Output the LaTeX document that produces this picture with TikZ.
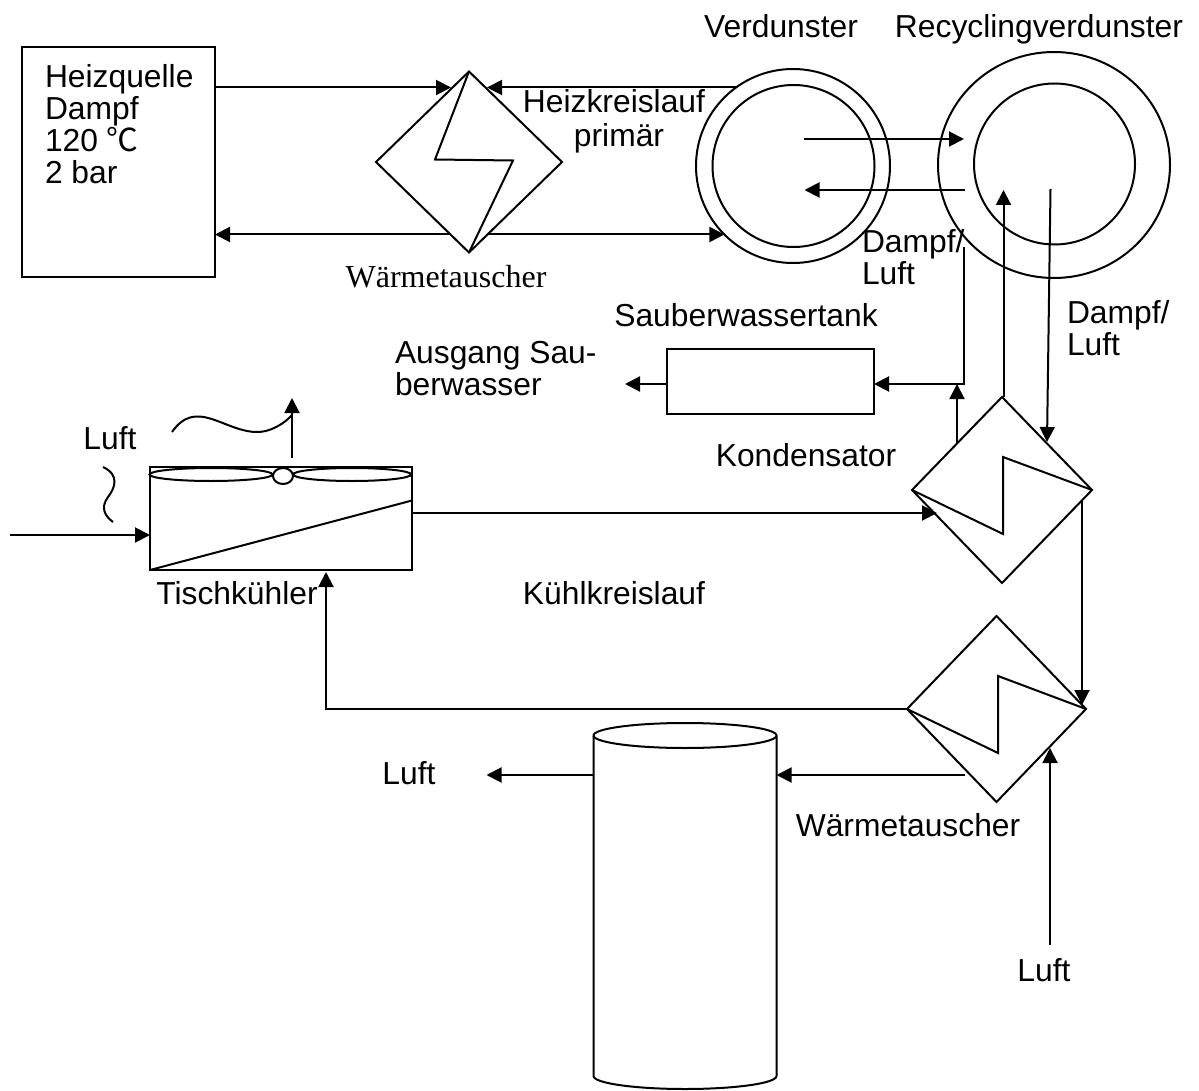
\documentclass[tikz,border=0pt]{standalone}
\usepackage{fontspec}
\setmainfont{Liberation Sans}
\newfontfamily\serifface{Liberation Serif}
\newfontfamily\cjk{Noto Sans CJK SC}
\usetikzlibrary{arrows.meta,calc,shapes.geometric}
\tikzset{
  >={Triangle[length=15pt,width=15pt]},
  every node/.style={font=\fontsize{31.8}{32}\selectfont,inner sep=0pt,outer sep=0pt},
  every path/.style={line width=2pt},
  box/.style={draw,minimum width=#1},
  exch/.style={draw,diamond,aspect=1,minimum width=180pt,minimum height=186pt},
  vessel/.style={draw,circle,minimum size=#1},
  blade/.style={draw,ellipse,minimum width=#1,minimum height=13pt},
  lbl/.style={anchor=base},
  lbll/.style={anchor=north west,align=left},
  arrow/.style={->},
}
\begin{document}
\begin{tikzpicture}[x=1pt,y=-1pt]
\useasboundingbox (0,0) rectangle (1199,1091);

% ---------- heating circuit ----------
\node[box=193pt,minimum height=230pt] (heat) at (118.5,162) {};
\node[lbll] (heattxt) at (45,64) {Heizquelle\\Dampf\\120 {\cjk ℃}\\2 bar};
\node[exch,minimum width=186pt,minimum height=181pt] (hx1) at (469,162) {};
\draw (hx1.north) -- ++(-34,88) -- ++(78,1) -- (hx1.south);
\node[font=\fontsize{32}{32}\serifface] (hx1txt) at (446,277) {Wärmetauscher};
\node[vessel=194pt] (evo) at (793,166) {};
\node[vessel=162pt] (evi) at (793.5,166) {};
\node[draw,ellipse,minimum width=232pt,minimum height=226pt] (reo) at (1054,165) {};
\node[vessel=161pt] (rei) at (1054.5,164) {};
\coordinate (hx1a) at ($(hx1.north)+(-18,16)$);
\coordinate (hx1b) at ($(hx1.north)+(18,16)$);
\coordinate (hx1c) at ($(hx1.south)+(-18,-18)$);
\coordinate (hx1d) at ($(hx1.south)+(18,-18)$);
\draw[arrow] (hx1a -| heat.east) -- (hx1a);
\draw[arrow] (hx1b -| evo.126) -- (hx1b);
\draw[arrow] (hx1c) -- (hx1c -| heat.east);
\draw[arrow] (hx1d) -- (hx1d -| evo.225);
\coordinate (hot1) at ($(evi.center)+(10,-27)$);
\coordinate (hot2) at ($(evi.center)+(11,24)$);
\draw[arrow] (hot1) -- ($(rei.west |- hot1)+(-10,0)$);
\draw[arrow] ($(rei.west |- hot2)+(-9,0)$) -- (hot2);
\node[lbl] (circ1) at (614,113) {Heizkreislauf};
\node[lbl] (circ2) at (619,147) {primär};
\node[lbl] (evtxt) at (781,38) {Verdunster};
\node[lbl] (retxt) at (1039,38) {Recyclingverdunster};

% ---------- clean water ----------
\node[box=207pt,minimum height=65pt] (tank) at (770.5,381.5) {};
\node[lbl] (tanktxt) at (746,326) {Sauberwassertank};
\node[lbll] (outtxt) at (395,341) {Ausgang Sau-\\berwasser};
\node[lbl] (kontxt) at (806,466) {Kondensator};
\node[lbll] (dl1) at (862,229) {Dampf/\\Luft};
\node[lbll] (dl2) at (1067,300) {Dampf/\\Luft};
\node[exch] (hx2) at (1002,490) {};
\draw (hx2.west) -- ++(91,44) -- ++(0,-77) -- (hx2.east);
\coordinate (dla) at ($(rei.west)+(-10,83)$);
\coordinate (dlb) at ($(tank.east)+(90,2.5)$);
\coordinate (kon) at ($(hx2.north)+(-45,46)$);
\coordinate (rup) at ($(hx2.north)+(1.5,0)$);
\draw[arrow] (tank.west |- dlb) -- ++(-42,0);
\draw[arrow] (dla) -- (dlb) -- (dlb -| tank.east);
\draw[arrow] (kon) -- (kon |- dlb);
\draw[arrow] (rup) -- (rup |- hot2);
\draw[arrow] ($(rei.center)+(-4,25)$) -- ($(hx2.north)+(45,45)$);

% ---------- cooler ----------
\node[box=262pt,minimum height=103pt] (cool) at (281,518.5) {};
\node[blade=123pt] (bl1) at (211,474.5) {};
\node[blade=118pt] (bl2) at (352,474.5) {};
\node[draw,ellipse,fill=white,minimum width=20pt,minimum height=16pt] (hub) at (283,476) {};
\draw (cool.south west) -- ($(cool.east)+(0,-18)$);
\coordinate (inl) at (10,535);
\coordinate (cla) at ($(hx2.west)+(25,23)$);
\draw[arrow] (inl) -- (inl -| cool.west);
\draw[arrow] ($(hub.north)+(9,-10)$) -- ++(0,-60);
\draw (172,432) .. controls (196,398) and (222,430) .. (255,432) .. controls (270,433) and (285,423) .. (292,415);
\draw (103,467) .. controls (120,475) and (115,488) .. (108,497) .. controls (100,508) and (105,516) .. (113,522);
\node[lbl] (lufta) at (110,449) {Luft};
\node[lbl] (cooltxt) at (237,604) {Tischkühler};
\node[lbl] (kuhl) at (614,604) {Kühlkreislauf};
\draw[arrow] (cla -| cool.east) -- (cla);

% ---------- lower part ----------
\node[exch,minimum width=179pt] (hx3) at (996.5,709) {};
\draw (hx3.west) -- ++(91,44) -- ++(0,-77) -- (hx3.east);
\coordinate (vta) at ($(hx2.east)+(-10,10)$);
\coordinate (vtb) at ($(hx3.east)+(-4,-4)$);
\draw[arrow] (vta) -- (vta |- vtb);
\draw[arrow] (hx3.west) -| ($(cool.south west)+(176,2)$);
\node[minimum width=183pt,minimum height=340.5pt] (cyl) at (685,905.75) {};
\draw (cyl.north west) arc[start angle=180,end angle=-180,x radius=91.5,y radius=-12.5];
\draw (cyl.north west) -- (cyl.south west) arc[start angle=180,end angle=360,x radius=91.5,y radius=-13] -- (cyl.north east);
\coordinate (tankin) at (965,775);
\draw[arrow] (tankin) -- (tankin -| cyl.east);
\draw[arrow] (tankin -| cyl.west) -- ++(-107,0);
\coordinate (airin) at (1050,945);
\draw[arrow] (airin) -- ++(0,-197);
\node[lbl] (luftb) at (409,784) {Luft};
\node[lbl] (hx3txt) at (908,836) {Wärmetauscher};
\node[lbl] (luftc) at (1044,981) {Luft};
\end{tikzpicture}
\end{document}
